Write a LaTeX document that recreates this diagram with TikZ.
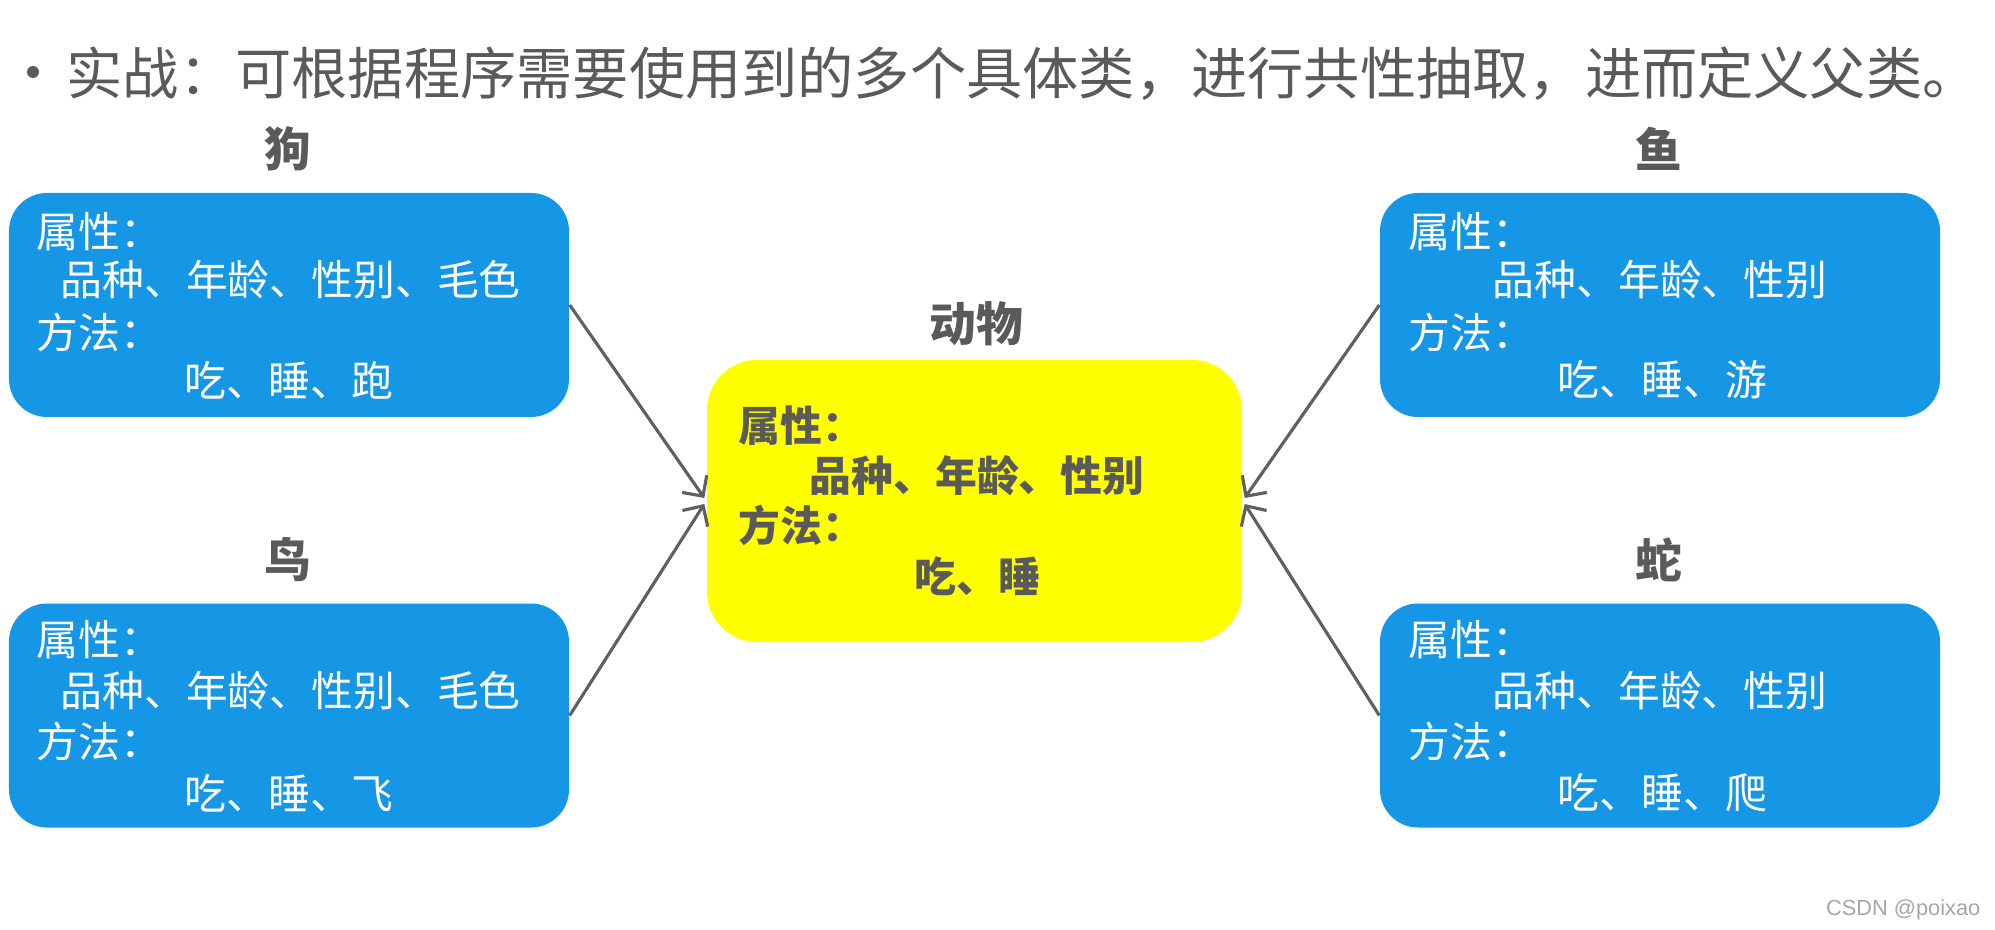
\documentclass[tikz,border=0pt]{standalone}
\usepackage{fontspec}
\usetikzlibrary{arrows.meta}
\newfontfamily\cjk{Noto Sans CJK SC}
\setsansfont{Liberation Sans}
\definecolor{boxblue}{HTML}{1597E5}
\definecolor{txtgray}{HTML}{5A5A5A}
\definecolor{arrowgray}{HTML}{606060}
\definecolor{parentyellow}{HTML}{FFFF00}
\tikzset{
  classbox/.style={fill=boxblue, rounded corners=0.38cm, minimum width=5.6cm, minimum height=2.24cm, inner sep=0pt},
  parentbox/.style={fill=parentyellow, rounded corners=0.5cm, minimum width=5.35cm, minimum height=2.82cm, inner sep=0pt},
  boxtext/.style={anchor=west, inner sep=0pt, text=white, font=\cjk\fontsize{11.9pt}{14pt}\selectfont},
  partext/.style={anchor=west, inner sep=0pt, text=txtgray, font=\cjk\bfseries\fontsize{11.9pt}{14pt}\selectfont},
  classname/.style={inner sep=0pt, text=txtgray, font=\cjk\bfseries\fontsize{13.3pt}{16pt}\selectfont},
  inherit/.style={draw=arrowgray, line width=0.9pt, -{Straight Barb[length=1.5mm, width=3mm]}}
}
\begin{document}
\begin{tikzpicture}
    \useasboundingbox (0,0) rectangle (19.95,-9.30);
    % title line
    \node[circle, fill=txtgray, inner sep=0pt, minimum size=0.12cm] (bullet) at (0.33,-0.72) {};
    \node[anchor=west, inner sep=0pt, text=txtgray, font=\cjk\fontsize{16pt}{18pt}\selectfont] (title) at (0.66,-0.74) {实战：可根据程序需要使用到的多个具体类，进行共性抽取，进而定义父类。};
    % subclasses, left side
    \node[classbox] (dog) at (2.89,-3.05) {};
    \node[classname] (dogname) at (2.88,-1.49) {狗};
    \node[boxtext] (dogattr) at (0.36,-2.32) {属性：};
    \node[boxtext] (dogattrs) at (0.60,-2.80) {品种、年龄、性别、毛色};
    \node[boxtext] (dogmeth) at (0.36,-3.33) {方法：};
    \node[boxtext] (dogmeths) at (1.84,-3.80) {吃、睡、跑};
    \node[classbox] (bird) at (2.89,-7.155) {};
    \node[classname] (birdname) at (2.88,-5.60) {鸟};
    \node[boxtext] (birdattr) at (0.36,-6.40) {属性：};
    \node[boxtext] (birdattrs) at (0.60,-6.91) {品种、年龄、性别、毛色};
    \node[boxtext] (birdmeth) at (0.36,-7.42) {方法：};
    \node[boxtext] (birdmeths) at (1.84,-7.93) {吃、睡、飞};
    % subclasses, right side
    \node[classbox] (fish) at (16.60,-3.05) {};
    \node[classname] (fishname) at (16.59,-1.49) {鱼};
    \node[boxtext] (fishattr) at (14.08,-2.32) {属性：};
    \node[boxtext] (fishattrs) at (14.92,-2.80) {品种、年龄、性别};
    \node[boxtext] (fishmeth) at (14.08,-3.33) {方法：};
    \node[boxtext] (fishmeths) at (15.57,-3.80) {吃、睡、游};
    \node[classbox] (snake) at (16.60,-7.155) {};
    \node[classname] (snakename) at (16.59,-5.60) {蛇};
    \node[boxtext] (snakeattr) at (14.08,-6.40) {属性：};
    \node[boxtext] (snakeattrs) at (14.92,-6.91) {品种、年龄、性别};
    \node[boxtext] (snakemeth) at (14.08,-7.42) {方法：};
    \node[boxtext] (snakemeths) at (15.57,-7.93) {吃、睡、爬};
    % parent class
    \node[parentbox] (animal) at (9.745,-5.01) {};
    \node[classname] (animalname) at (9.76,-3.24) {动物};
    \node[partext] (animalattr) at (7.38,-4.26) {属性：};
    \node[partext] (animalattrs) at (8.09,-4.76) {品种、年龄、性别};
    \node[partext] (animalmeth) at (7.38,-5.25) {方法：};
    \node[partext] (animalmeths) at (9.14,-5.76) {吃、睡};
    % inheritance arrows
    \draw[inherit] (dog.east) -- ([xshift=-0.02cm, yshift=0.03cm]animal.west);
    \draw[inherit] (bird.east) -- ([xshift=-0.02cm, yshift=-0.03cm]animal.west);
    \draw[inherit] (fish.west) -- ([xshift=0.02cm, yshift=0.03cm]animal.east);
    \draw[inherit] (snake.west) -- ([xshift=0.02cm, yshift=-0.03cm]animal.east);
    % watermark
    \node[anchor=east, inner sep=0pt, text=gray!70, font=\sffamily\fontsize{6.2pt}{7pt}\selectfont] (mark) at (19.81,-9.10) {CSDN @poixao};
\end{tikzpicture}
\end{document}
